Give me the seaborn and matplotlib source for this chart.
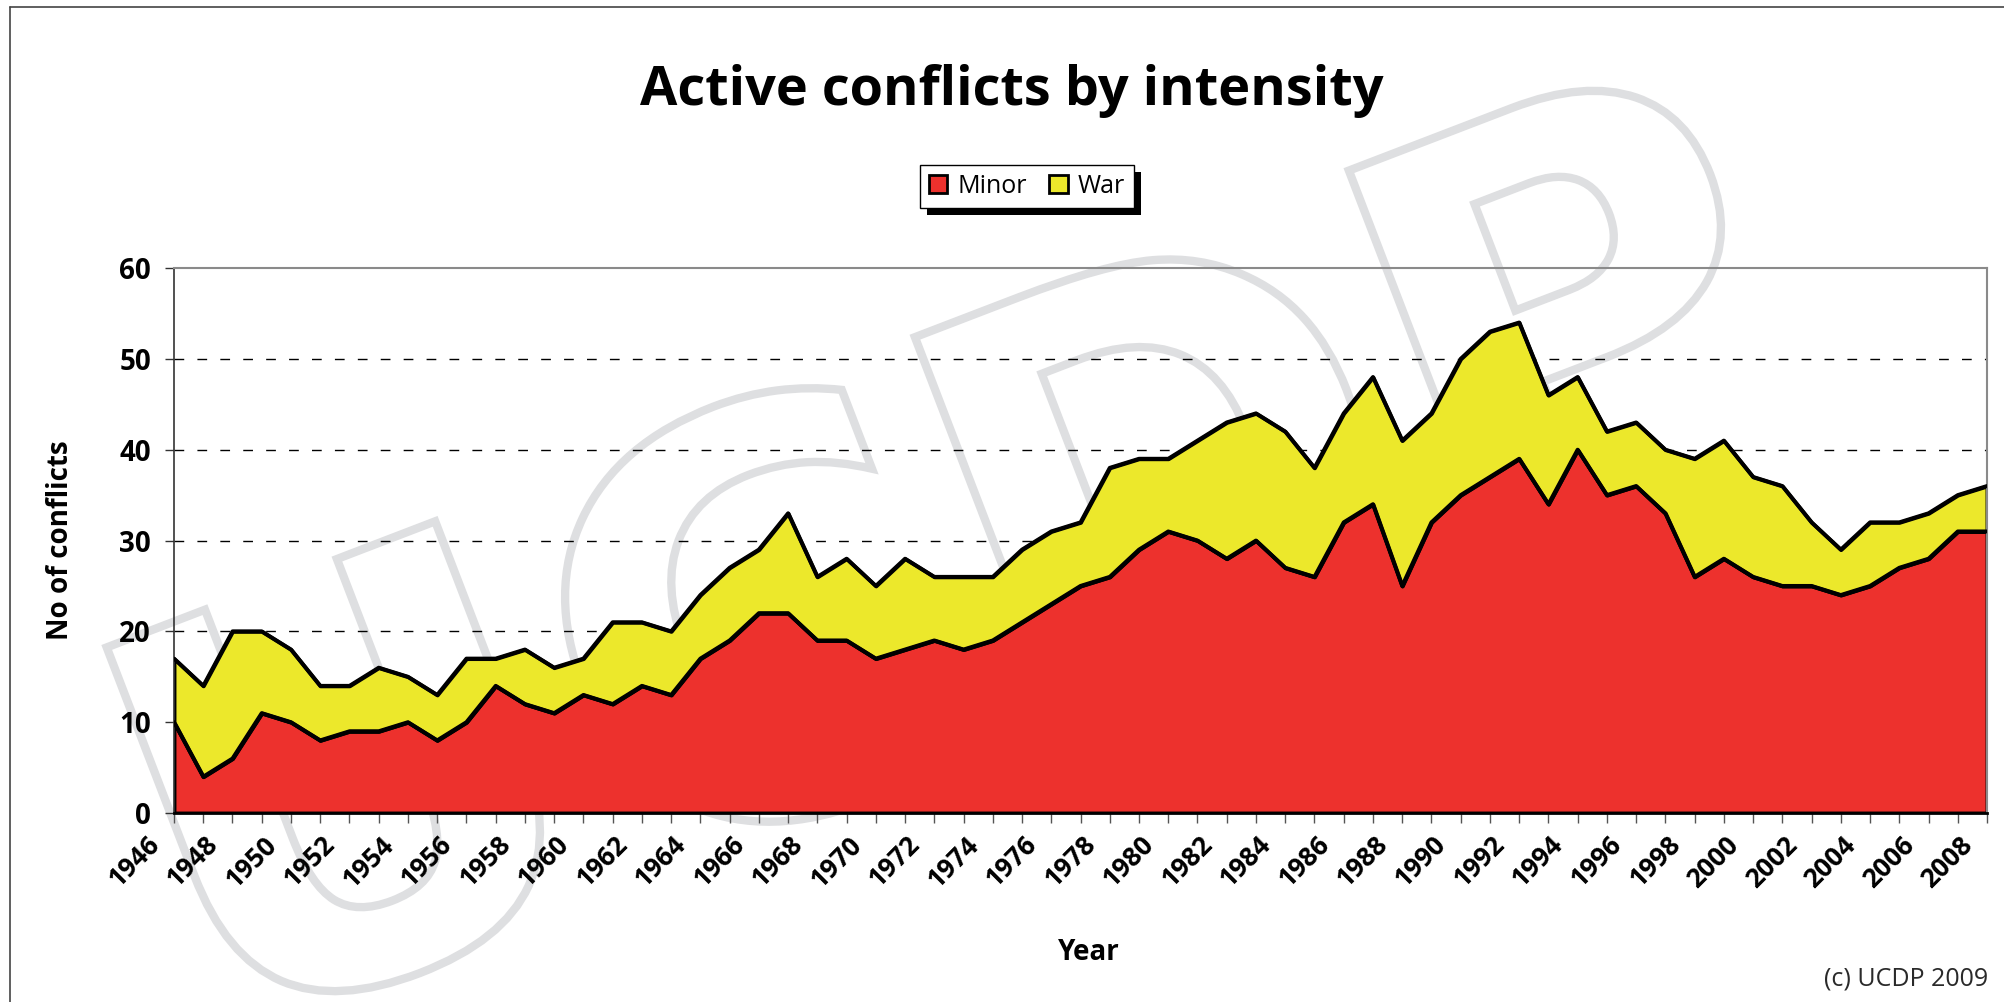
import matplotlib
matplotlib.use("Agg")
import matplotlib.pyplot as plt
import seaborn as sns
import pandas as pd
from matplotlib.patches import Patch, Rectangle, PathPatch
from matplotlib.textpath import TextPath
from matplotlib.font_manager import FontProperties
from matplotlib.transforms import Affine2D, IdentityTransform, ScaledTranslation
from matplotlib.lines import Line2D

# Active conflicts per year
years = list(range(1946, 2009))
minor = [10, 4, 6, 11, 10, 8, 9, 9, 10, 8,
         10, 14, 12, 11, 13, 12, 14, 13, 17, 19,
         22, 22, 19, 19, 17, 18, 19, 18, 19, 21,
         23, 25, 26, 29, 31, 30, 28, 30, 27, 26,
         32, 34, 25, 32, 35, 37, 39, 34, 40, 35,
         36, 33, 26, 28, 26, 25, 25, 24, 25, 27,
         28, 31, 31]
war = [7, 10, 14, 9, 8, 6, 5, 7, 5, 5,
       7, 3, 6, 5, 4, 9, 7, 7, 7, 8,
       7, 11, 7, 9, 8, 10, 7, 8, 7, 8,
       8, 7, 12, 10, 8, 11, 15, 14, 15, 12,
       12, 14, 16, 12, 15, 16, 15, 12, 8, 7,
       7, 7, 13, 13, 11, 11, 7, 5, 7, 5,
       5, 4, 5]
series_names = ["Minor", "War"]
colors = ["#ed312d", "#ece82b"]

df = pd.DataFrame({"year": years, "Minor": minor, "War": war})
df["total"] = df["Minor"] + df["War"]

sns.set_theme(style="white")
plt.rcParams["font.family"] = ["Open Sans", "DejaVu Sans"]
plt.rcParams["text.color"] = "black"
plt.rcParams["xtick.color"] = "black"
plt.rcParams["ytick.color"] = "black"

fig = plt.figure(figsize=(20.04, 10.02), dpi=100)
fig.patch.set_facecolor("white")
ax = fig.add_axes([174 / 2004, 1 - 813 / 1002, (1987 - 174) / 2004, (813 - 268) / 1002])
ax.set_facecolor("none")

# faint UCDP watermark behind everything
tp = TextPath((0, 0), "UCDP", size=560, prop=FontProperties(family="DejaVu Sans", weight="bold"))
wm = Affine2D().rotate_deg(21).translate(205, -45).transform_path(tp)
fig.add_artist(PathPatch(wm, facecolor="none", edgecolor="#dedfe1", lw=6,
                         transform=IdentityTransform(), zorder=-5))

# stacked areas
ax.fill_between(df["year"], 0, df["Minor"], facecolor=colors[0], edgecolor="black", lw=2.8, zorder=2)
ax.fill_between(df["year"], df["Minor"], df["total"], facecolor=colors[1], edgecolor="black", lw=2.8, zorder=2)
sns.lineplot(data=df, x="year", y="Minor", color="black", lw=2.8, ax=ax, zorder=3)
sns.lineplot(data=df, x="year", y="total", color="black", lw=2.8, ax=ax, zorder=3)

ax.set_xlim(1946, 2008)
ax.set_ylim(0, 60)
ax.set_yticks(range(0, 61, 10))
ax.set_xticks(years)
ax.set_xticklabels([str(y) if (y - 1946) % 2 == 0 else "" for y in years])
ax.grid(axis="y", color="black", lw=1, linestyle=(0, (7, 9.5)))
ax.set_axisbelow(True)
for g in ax.get_ygridlines()[-1:]:
    g.set_visible(False)

ax.tick_params(axis="y", direction="out", length=6.5, width=1, color="#333333",
               labelsize=20, pad=10, left=True, labelcolor="black")
ax.tick_params(axis="x", direction="out", length=7, width=1, color="#555555",
               labelsize=19, pad=6, bottom=True, labelcolor="black")
for lab in ax.get_yticklabels():
    lab.set_fontweight("bold")
shift = ScaledTranslation(-0.09, 0, fig.dpi_scale_trans)
for lab in ax.get_xticklabels():
    lab.set_fontweight("bold")
    lab.set_rotation(45)
    lab.set_ha("right")
    lab.set_transform(lab.get_transform() + shift)

for side in ["top", "right"]:
    ax.spines[side].set_color("#8a8a8a")
    ax.spines[side].set_linewidth(1.5)
ax.spines["left"].set_color("#333333")
ax.spines["left"].set_linewidth(1.2)
ax.spines["bottom"].set_color("black")
ax.spines["bottom"].set_linewidth(2)
ax.set_xlabel("")
ax.set_ylabel("")

fig.text(0.505, 1 - 105 / 1002, "Active conflicts by intensity", ha="center", va="baseline",
         fontsize=39, fontweight="bold", color="black")
fig.text(60 / 2004, 1 - 540 / 1002, "No of conflicts", rotation=90, ha="center", va="center",
         fontsize=20, fontweight="bold", color="black")
fig.text(1089 / 2004, 1 - 952 / 1002, "Year", ha="center", va="center",
         fontsize=20, fontweight="bold", color="black")
fig.text(1988 / 2004, 1 - 985 / 1002, "(c) UCDP 2009", ha="right", va="baseline",
         fontsize=18, color="#2a2a2a")

handles = [Patch(facecolor=c, edgecolor="black", lw=2) for c in colors]
leg = fig.legend(handles, series_names, loc="center", bbox_to_anchor=(1027 / 2004, 1 - 186.5 / 1002),
                 ncol=2, fontsize=18, frameon=True, fancybox=False, framealpha=1,
                 edgecolor="black", handlelength=0.75, handleheight=0.75, handletextpad=0.4,
                 columnspacing=0.9, borderpad=0.35)
leg.get_frame().set_linewidth(1)
for t in leg.get_texts():
    t.set_color("black")
fig.canvas.draw()
bb = leg.get_window_extent()
fig.add_artist(Rectangle((bb.x0 + 7, bb.y0 - 7), bb.width, bb.height, facecolor="black",
                         edgecolor="none", transform=IdentityTransform(), zorder=leg.get_zorder() - 0.5))

# border of the screenshot (left and top edges)
fig.add_artist(Line2D([10 / 2004, 10 / 2004], [0, 1 - 7 / 1002], color="#444444", lw=1.2))
fig.add_artist(Line2D([10 / 2004, 1], [1 - 7 / 1002, 1 - 7 / 1002], color="#444444", lw=1.2))

fig.savefig("out.png", dpi=100)
